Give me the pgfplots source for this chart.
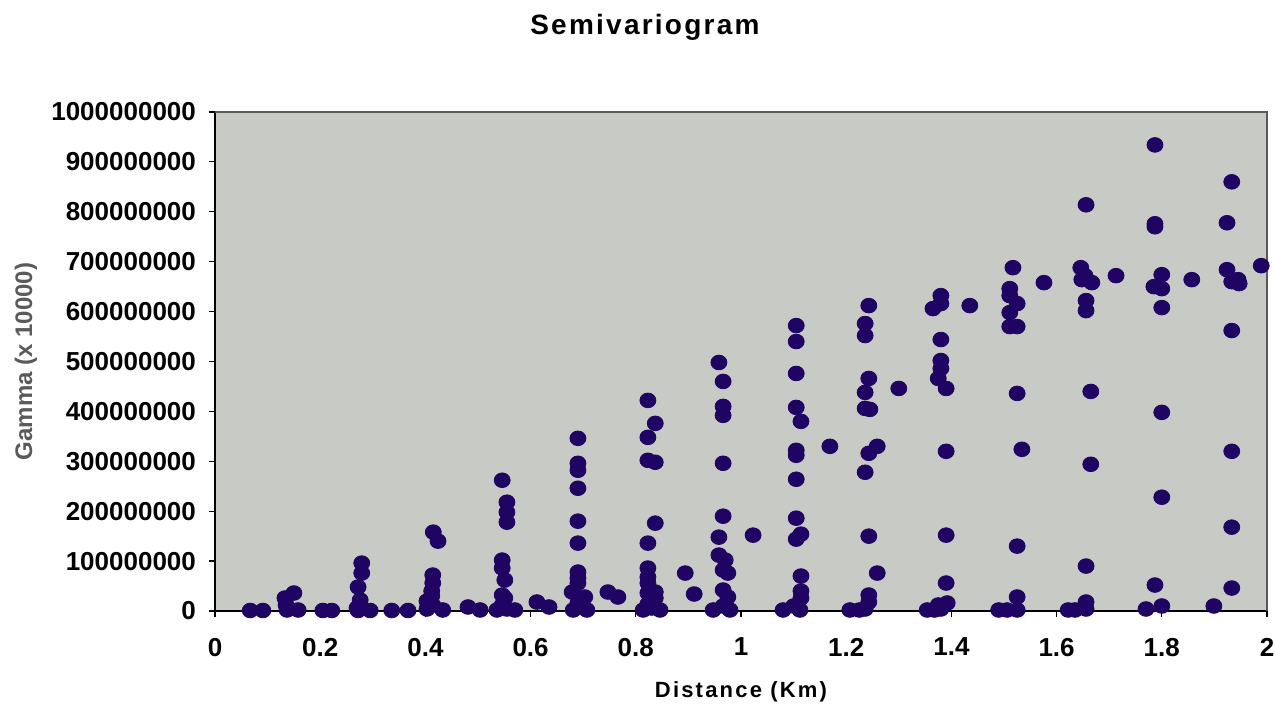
\documentclass[border=0pt]{standalone}
\usepackage{fontspec}
\setmainfont{Liberation Sans}
\newfontfamily\titlefam[LetterSpace=8]{Liberation Sans}
\newfontfamily\labfam[LetterSpace=10]{Liberation Sans}
\usepackage{pgfplots}
\pgfplotsset{compat=1.18}
\definecolor{plotbg}{RGB}{200,203,197}
\definecolor{dotc}{RGB}{32,4,100}
\definecolor{ylabc}{RGB}{90,90,90}
\begin{document}
\begin{tikzpicture}
\useasboundingbox (-107.5pt,-46.5pt) rectangle (530pt,305.5pt);
\begin{axis}[
  scale only axis, width=526pt, height=249.5pt,
  at={(0,0)}, anchor=south west,
  xmin=0, xmax=2, ymin=0, ymax=1000,
  xtick={0,0.2,0.4,0.6,0.8,1,1.2,1.4,1.6,1.8,2},
  xticklabels={0,0.2,0.4,0.6,0.8,1,1.2,1.4,1.6,1.8,2},
  ytick={0,100,200,300,400,500,600,700,800,900,1000},
  yticklabels={0,100000000,200000000,300000000,400000000,500000000,600000000,700000000,800000000,900000000,1000000000},
  /pgf/number format/assume math mode=true,
  tick label style={font=\fontsize{13}{15}\selectfont\bfseries},
  xticklabel style={yshift=-7pt},
  yticklabel style={xshift=-3pt},
  axis background/.style={fill=plotbg},
  axis x line*=bottom, axis y line*=left,
  axis line style={black, line width=0.8pt},
  tick align=outside, major tick length=3pt,
  tick style={black, line width=0.6pt},
  clip=false,
  xlabel={\labfam\bfseries Distance (Km)},
  xlabel style={at={(rel axis cs:0.5,0)}, yshift=-40.5pt, anchor=center, font=\fontsize{11}{13}\selectfont},
  ylabel={\bfseries Gamma (x 10000)},
  ylabel style={at={(rel axis cs:0,0.5)}, rotate=0, yshift=94.5pt, anchor=center, font=\fontsize{12}{14}\selectfont, text=ylabc},
]
\addplot[only marks, mark=*, mark size=4pt, mark options={fill=dotc, draw=dotc, yscale=0.92}] coordinates {
(0.067,1) (0.091,1)
(0.133,26) (0.150,36) (0.135,12) (0.137,2) (0.158,2)
(0.205,1) (0.222,1)
(0.279,96) (0.279,76) (0.272,48) (0.276,22) (0.270,6) (0.272,1) (0.295,1)
(0.336,1) (0.367,1)
(0.415,158) (0.424,140) (0.414,72) (0.414,56) (0.412,40) (0.412,30) (0.403,20) (0.403,4) (0.414,12) (0.433,2)
(0.481,8) (0.504,2)
(0.546,262) (0.555,218) (0.555,198) (0.555,178) (0.546,102) (0.546,86) (0.551,62) (0.546,32) (0.551,26) (0.546,12) (0.536,2) (0.570,2) (0.555,4)
(0.612,18) (0.635,8)
(0.690,346) (0.690,296) (0.690,282) (0.690,246) (0.690,180) (0.690,136) (0.690,78) (0.690,66) (0.690,56) (0.679,38) (0.703,28) (0.690,16) (0.681,2) (0.707,2)
(0.747,38) (0.766,28)
(0.823,422) (0.837,376) (0.823,348) (0.823,302) (0.837,298) (0.837,176) (0.823,136) (0.823,86) (0.823,68) (0.823,56) (0.837,38) (0.823,36) (0.837,26) (0.823,14) (0.814,2) (0.846,2) (0.830,6)
(0.894,76) (0.911,34)
(0.958,498) (0.966,460) (0.966,410) (0.966,392) (0.966,296) (0.966,190) (0.958,148) (0.958,112) (0.970,102) (0.966,82) (0.975,76) (0.966,42) (0.975,28) (0.947,2) (0.979,2) (0.966,10)
(1.023,152)
(1.105,572) (1.105,540) (1.105,476) (1.105,408) (1.114,380) (1.105,322) (1.105,312) (1.105,264) (1.105,186) (1.114,154) (1.105,144) (1.114,70) (1.114,40) (1.114,26) (1.080,2) (1.112,2) (1.100,10)
(1.169,330)
(1.243,612) (1.236,576) (1.236,552) (1.243,466) (1.236,438) (1.236,406) (1.245,404) (1.300,446) (1.259,330) (1.243,316) (1.236,278) (1.243,150) (1.259,76) (1.243,32) (1.243,18) (1.207,2) (1.236,4) (1.225,2)
(1.380,632) (1.380,616) (1.365,606) (1.435,612) (1.380,544) (1.380,502) (1.380,486) (1.375,466) (1.390,446) (1.390,320) (1.390,152) (1.390,56) (1.392,16) (1.375,12) (1.354,2) (1.380,4) (1.368,2)
(1.517,688) (1.511,646) (1.511,632) (1.525,616) (1.511,598) (1.511,570) (1.525,570) (1.525,436) (1.534,324) (1.525,130) (1.525,28) (1.506,2) (1.525,2) (1.490,2)
(1.576,658)
(1.656,814) (1.646,688) (1.654,672) (1.648,664) (1.667,658) (1.656,622) (1.656,602) (1.665,440) (1.665,294) (1.656,90) (1.656,18) (1.656,4) (1.622,2) (1.635,2)
(1.713,672)
(1.787,934) (1.787,776) (1.787,770) (1.800,674) (1.785,650) (1.800,646) (1.800,608) (1.800,398) (1.800,228) (1.787,52) (1.800,10) (1.770,4)
(1.857,664)
(1.933,860) (1.924,778) (1.924,684) (1.945,664) (1.933,660) (1.947,656) (1.933,562) (1.933,320) (1.933,168) (1.933,46) (1.899,10)
(1.989,692)
};
\draw[gray!70!black, line width=0.8pt] (rel axis cs:0,1) -- (rel axis cs:1,1) -- (rel axis cs:1,0);
\node[font=\titlefam\fontsize{14}{16}\selectfont\bfseries] at (rel axis cs:0.4087,1) [yshift=42.5pt] {Semivariogram};
\end{axis}
\end{tikzpicture}
\end{document}
